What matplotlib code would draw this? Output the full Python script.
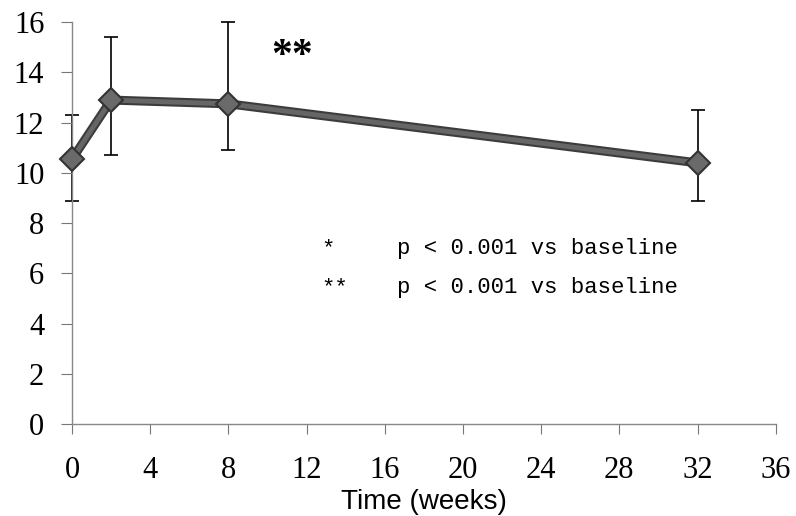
import numpy as np
import matplotlib.pyplot as plt

# data
weeks = [0, 2, 8, 32]
value = [10.55, 12.9, 12.75, 10.4]
err_low = [1.65, 2.2, 1.85, 1.5]
err_high = [1.75, 2.5, 3.25, 2.1]

xticks = [0, 4, 8, 12, 16, 20, 24, 28, 32, 36]
yticks = [0, 2, 4, 6, 8, 10, 12, 14, 16]

fig = plt.figure(figsize=(7.96, 5.16), dpi=100)
ax = fig.add_axes([0.0905, 0.178, 0.884, 0.779])

eb = ax.errorbar(weeks, value, yerr=[err_low, err_high], fmt='none',
                 ecolor='black', elinewidth=1.2, capsize=5, capthick=1.2, zorder=1)
for art in eb.lines[1] + eb.lines[2]:
    art.set_clip_on(False)
l1, = ax.plot(weeks, value, color='#3c3c3c', lw=6.5, zorder=2)
l2, = ax.plot(weeks, value, color='#666666', lw=3.5, zorder=3)
l3, = ax.plot(weeks, value, ls='none', marker='D', ms=12, mfc='#6a6a6a',
              mec='#333333', mew=1.5, zorder=4)
for l in (l1, l2, l3):
    l.set_clip_on(False)

ax.set_xlim(0, 36)
ax.set_ylim(0, 16)
ax.set_xticks(xticks)
ax.set_yticks(yticks)

serif = ['Liberation Serif', 'DejaVu Serif']
ax.set_xticklabels([str(t) for t in xticks], family=serif, fontsize=22)
ax.set_yticklabels([str(t) for t in yticks], family=serif, fontsize=22)
ax.tick_params(axis='y', direction='out', length=8, width=0.8,
               color='#777777', pad=12)
ax.tick_params(axis='x', direction='out', length=7, width=0.8,
               color='#777777', pad=16)

for s in ['top', 'right']:
    ax.spines[s].set_visible(False)
for s in ['left', 'bottom']:
    ax.spines[s].set_color('#888888')
    ax.spines[s].set_linewidth(1.0)

ax.set_xlabel('Time (weeks)', family=['Liberation Sans', 'DejaVu Sans'],
              fontsize=20, labelpad=3)

ax.text(11.25, 14.6, '**', family=serif, fontsize=30, fontweight='bold',
        ha='center', va='center')

mono = ['Liberation Mono', 'DejaVu Sans Mono']
ax.text(12.75, 7.0, '*', family=mono, fontsize=16, va='center')
ax.text(12.75, 5.45, '**', family=mono, fontsize=16, va='center')
ax.text(16.6, 7.0, 'p < 0.001 vs baseline', family=mono, fontsize=16, va='center')
ax.text(16.6, 5.45, 'p < 0.001 vs baseline', family=mono, fontsize=16, va='center')

fig.savefig('out.png', dpi=100)
